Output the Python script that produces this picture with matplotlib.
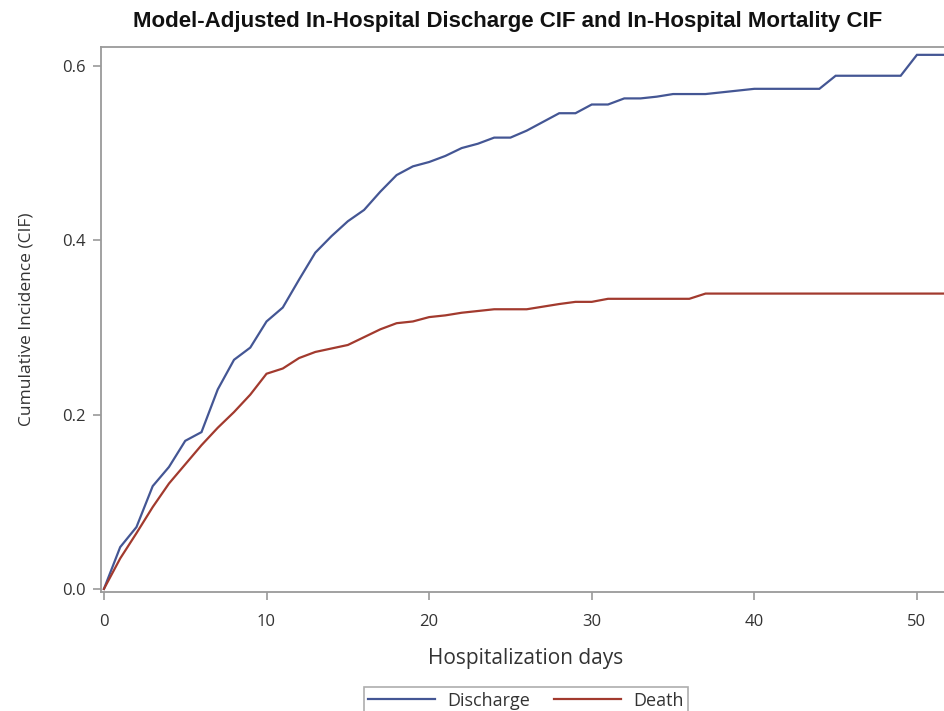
import matplotlib
matplotlib.use("Agg")
import matplotlib.pyplot as plt

days = list(range(0, 53))
discharge = [0.000, 0.048, 0.071, 0.118, 0.140, 0.170, 0.180, 0.229, 0.263, 0.277,
             0.307, 0.323, 0.355, 0.386, 0.405, 0.422, 0.435, 0.456, 0.475, 0.485,
             0.490, 0.497, 0.506, 0.511, 0.518, 0.518, 0.526, 0.536, 0.546, 0.546,
             0.556, 0.556, 0.563, 0.563, 0.565, 0.568, 0.568, 0.568, 0.570, 0.572,
             0.574, 0.574, 0.574, 0.574, 0.574, 0.589, 0.589, 0.589, 0.589, 0.589,
             0.613, 0.613, 0.613]
death = [0.000, 0.035, 0.064, 0.094, 0.121, 0.143, 0.165, 0.185, 0.203, 0.223,
         0.247, 0.253, 0.265, 0.272, 0.276, 0.280, 0.289, 0.298, 0.305, 0.307,
         0.312, 0.314, 0.317, 0.319, 0.321, 0.321, 0.321, 0.324, 0.327, 0.3295,
         0.3295, 0.333, 0.333, 0.333, 0.333, 0.333, 0.333, 0.339, 0.339, 0.339,
         0.339, 0.339, 0.339, 0.339, 0.339, 0.339, 0.339, 0.339, 0.339, 0.339,
         0.339, 0.339, 0.339]
x_ticks = [0, 10, 20, 30, 40, 50]
y_ticks = [0.0, 0.2, 0.4, 0.6]
y_tick_labels = ["0.0", "0.2", "0.4", "0.6"]

title = "Model-Adjusted In-Hospital Discharge CIF and In-Hospital Mortality CIF"
xlabel = "Hospitalization days"
ylabel = "Cumulative Incidence (CIF)"

W, H = 944, 711
fig = plt.figure(figsize=(W / 100, H / 100), dpi=100)
ax = fig.add_axes([101 / W, 1 - 592 / H, 0.90, (592 - 47) / H])

blue = "#445694"
red = "#A23A2E"
ax.plot(days, discharge, color=blue, lw=1.6, label="Discharge", solid_joinstyle="miter")
ax.plot(days, death, color=red, lw=1.6, label="Death", solid_joinstyle="miter")

ax.set_xlim(-0.18, 52.07)
ax.set_ylim(-0.0035, 0.622)
ax.set_xticks(x_ticks)
ax.set_yticks(y_ticks)
ax.set_yticklabels(y_tick_labels)

gray = "#9a9a9a"
txt = "#333333"
sans = ["Open Sans", "DejaVu Sans"]
for s in ax.spines.values():
    s.set_color(gray)
    s.set_linewidth(1.3)
ax.tick_params(direction="out", length=6, width=1.2, color=gray,
               labelcolor=txt, labelsize=12)
ax.tick_params(axis="x", pad=10)
ax.tick_params(axis="y", pad=5)
for lab in ax.get_xticklabels() + ax.get_yticklabels():
    lab.set_family(sans)

ax.set_xlabel(xlabel, fontsize=15, color=txt, family=sans, labelpad=13)
ax.set_ylabel(ylabel, fontsize=12.5, color=txt, family=sans, labelpad=20)

fig.text(0.538, 1 - 22 / H, title, ha="center", va="center", fontsize=16,
         fontweight="bold", family=["Liberation Sans", "DejaVu Sans"], color="#111111")

leg = fig.legend(loc="upper center", bbox_to_anchor=(526 / W, 1 - 687 / H), ncol=2,
                 frameon=True, fancybox=False, handlelength=3.7, columnspacing=1.3,
                 borderpad=0.25, handletextpad=0.7, borderaxespad=0,
                 prop={"family": sans, "size": 13})
leg.get_frame().set_edgecolor(gray)
leg.get_frame().set_linewidth(1.2)
for t in leg.get_texts():
    t.set_color(txt)

fig.savefig("out.png", dpi=100)
